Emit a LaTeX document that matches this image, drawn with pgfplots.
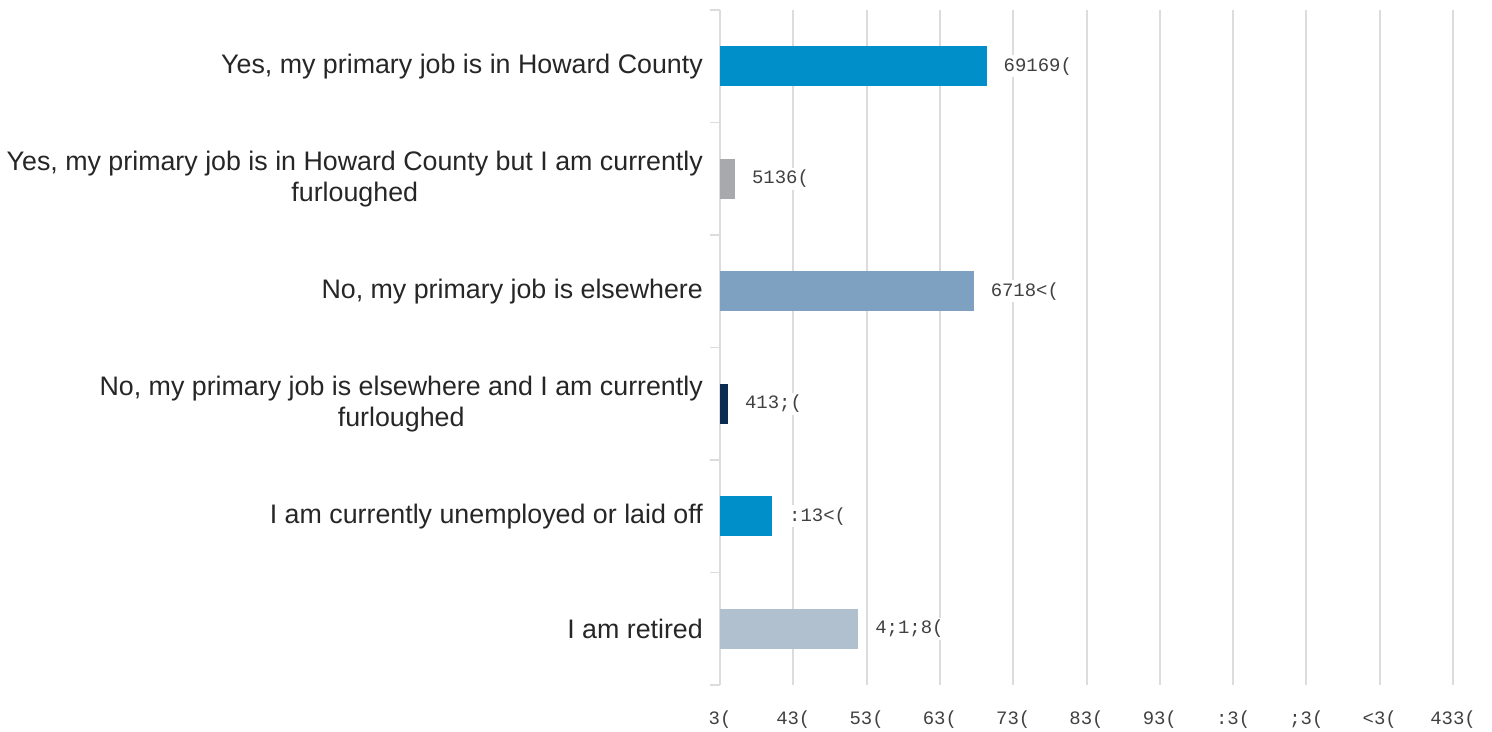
\documentclass[border=0pt]{standalone}
\usepackage{fontspec}
\setmainfont{Liberation Sans}
\newfontfamily\monofont{Liberation Mono}
\usepackage{pgfplots}
\pgfplotsset{compat=1.18}
\definecolor{cblue}{HTML}{008FC9}
\definecolor{cgray}{HTML}{A7A9AC}
\definecolor{csteel}{HTML}{7FA1C1}
\definecolor{cnavy}{HTML}{0A2C50}
\definecolor{clight}{HTML}{B1C0CF}
\definecolor{gridgray}{HTML}{DCDCDC}
\definecolor{labgray}{HTML}{404040}
\definecolor{catgray}{HTML}{262626}
\begin{document}
\begin{tikzpicture}[x=1bp,y=1bp]
\useasboundingbox (0,0) rectangle (1492,732);
\begin{axis}[
    at={(720bp,47bp)}, anchor=south west,
    scale only axis, width=733bp, height=675bp,
    xbar, bar width=40bp, bar shift=0pt,
    xmin=0, xmax=100, ymin=-0.5, ymax=5.5,
    y dir=reverse,
    axis lines*=left,
    x axis line style={draw=none},
    y axis line style={draw=gridgray, line width=1.5bp, -},
    xmajorgrids, major grid style={draw=gridgray, line width=2bp},
    xtick={0,10,...,100},
    xticklabels={{3(},{43(},{53(},{63(},{73(},{83(},{93(},{:3(},{;3(},{<3(},{433(}},
    xticklabel style={font=\fontsize{19}{19}\selectfont\monofont, text=labgray, yshift=-22bp},
    ytick={0,1,2,3,4,5},
    yticklabels={
        {Yes, my primary job is in Howard County},
        {Yes, my primary job is in Howard County but I am currently\\furloughed},
        {No, my primary job is elsewhere},
        {No, my primary job is elsewhere and I am currently\\furloughed},
        {I am currently unemployed or laid off},
        {I am retired}},
    yticklabel style={font=\fontsize{26.9}{31}\selectfont, text=catgray, align=center, inner sep=0pt, xshift=-17bp},
    minor ytick={-0.5,0.5,...,5.5},
    major tick length=0pt,
    minor tick length=10bp,
    tick align=outside,
    ytick pos=left,
    minor tick style={draw=gridgray, line width=1.5bp},
    nodes near coords style={anchor=west, fill=white, inner sep=2bp, xshift=15bp, text=labgray,
        font=\fontsize{19}{19}\selectfont\monofont},
]
\addplot[fill=cblue, draw=none, nodes near coords={69169(}] coordinates {(36.36,0)};
\addplot[fill=cgray, draw=none, nodes near coords={5136(}] coordinates {(2.03,1)};
\addplot[fill=csteel, draw=none, nodes near coords={6718<(}] coordinates {(34.59,2)};
\addplot[fill=cnavy, draw=none, nodes near coords={413;(}] coordinates {(1.08,3)};
\addplot[fill=cblue, draw=none, nodes near coords={:13<(}] coordinates {(7.09,4)};
\addplot[fill=clight, draw=none, nodes near coords={4;1;8(}] coordinates {(18.85,5)};
\end{axis}
\end{tikzpicture}
\end{document}
